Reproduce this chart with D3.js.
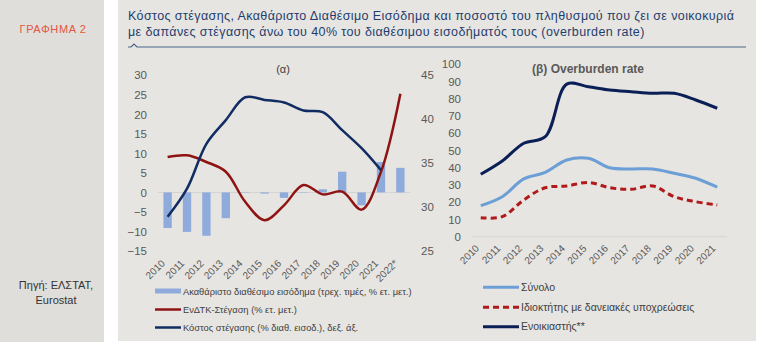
<!DOCTYPE html>
<html>
<head>
<meta charset="utf-8">
<script src="https://cdn.jsdelivr.net/npm/d3@7"></script>
<style>
  html, body { margin: 0; padding: 0; background: #fff; }
  svg { display: block; font-family: "Liberation Sans", Arial, sans-serif; }
</style>
</head>
<body>
<div id="chart"></div>
<script>
// panel (α): yearly changes and housing cost
const yearsA = ["2010", "2011", "2012", "2013", "2014", "2015", "2016", "2017", "2018", "2019", "2020", "2021", "2022*"];
const incomeChange = [-9.1, -10.1, -11.1, -6.6, -0.1, -0.3, -1.4, 0.1, 0.8, 5.3, -3.3, 7.8, 6.3];
const cpiHousing = [9.1, 9.5, 7.8, 5.3, -2.4, -7.1, -3.3, 1.9, -0.5, 0.2, -4.4, 5.3, 25.3];
const housingCost = [28.9, 32.1, 37.2, 39.9, 42.5, 42.2, 41.9, 41.0, 40.8, 38.75, 36.7, 34.2];
const ticksLeftA = [-15, -10, -5, 0, 5, 10, 15, 20, 25, 30];
const ticksRightA = [25, 30, 35, 40, 45];

// panel (β): overburden rate
const yearsB = ["2010", "2011", "2012", "2013", "2014", "2015", "2016", "2017", "2018", "2019", "2020", "2021"];
const totalRate = [18, 23.2, 33.5, 37.3, 44.5, 45.5, 40, 39.3, 39.3, 36.8, 33.9, 28.7];
const ownerMortgage = [11, 11.6, 21.3, 28.4, 29.4, 31.5, 28.4, 27.5, 29.4, 23.2, 20.3, 18.4];
const tenantRate = [36.2, 43.9, 54.2, 58, 88.5, 87, 85.1, 84.1, 83.2, 83.2, 79.3, 74.5];
const ticksB = [0, 10, 20, 30, 40, 50, 60, 70, 80, 90, 100];

const legendA = [
    {label: "Ακαθάριστο διαθέσιμο εισόδημα (τρεχ. τιμές, % ετ. μετ.)", color: "#8eabdc", width: 5, dash: null},
    {label: "ΕνΔΤΚ-Στέγαση (% ετ. μετ.)", color: "#8e1414", width: 2.5, dash: null},
    {label: "Κόστος στέγασης (% διαθ. εισοδ.), δεξ. άξ.", color: "#112c62", width: 2.5, dash: null}
];
const legendB = [
    {label: "Σύνολο", color: "#6b9fd6", width: 3, dash: null},
    {label: "Ιδιοκτήτης με δανειακές υποχρεώσεις", color: "#b01a1a", width: 3, dash: "6,4"},
    {label: "Ενοικιαστής**", color: "#0b1f57", width: 3, dash: null}
];

const width = 758, height = 342;
const axisColor = "#595959";

const svg = d3.select("#chart").append("svg")
    .attr("width", width)
    .attr("height", height);

// background panels
svg.append("rect").attr("x", 0).attr("y", 0).attr("width", 104).attr("height", height).attr("fill", "#e0deda");
svg.append("rect").attr("x", 118).attr("y", 0).attr("width", 638).attr("height", 341).attr("fill", "#e7e5e1");

svg.append("text")
    .attr("x", 53).attr("y", 33)
    .attr("text-anchor", "middle")
    .attr("fill", "#e0573f")
    .style("font-size", "11px")
    .style("letter-spacing", "0.6px")
    .text("ΓΡΑΦΗΜΑ 2");

const source = svg.append("text")
    .attr("text-anchor", "middle")
    .attr("fill", "#333")
    .style("font-size", "11px");
source.append("tspan").attr("x", 56).attr("y", 289).text("Πηγή: ΕΛΣΤΑΤ,");
source.append("tspan").attr("x", 56).attr("y", 304).text("Eurostat");

// title
const title = svg.append("text")
    .attr("fill", "#1f3d6e")
    .style("font-size", "12.5px")
    .style("letter-spacing", "0.4px");
title.append("tspan").attr("x", 128).attr("y", 20)
    .text("Κόστος στέγασης, Ακαθάριστο Διαθέσιμο Εισόδημα και ποσοστό του πληθυσμού που ζει σε νοικοκυριά");
title.append("tspan").attr("x", 128).attr("y", 36)
    .text("με δαπάνες στέγασης άνω του 40% του διαθέσιμου εισοδήματός τους (overburden rate)");

svg.append("path")
    .attr("d", "M128,47H131L134,44L137,47H746")
    .attr("fill", "none")
    .attr("stroke", "#4a6687")
    .attr("stroke-width", 1.2);

// ---------- panel (α) ----------
const xA = d3.scaleBand().domain(yearsA).range([158, 410]).paddingInner(0.57).paddingOuter(0.28);
const yL = d3.scaleLinear().domain([-15, 30]).range([251, 75.3]);
const yR = d3.scaleLinear().domain([25, 45]).range([251, 75.3]);
const cxA = d => xA(d) + xA.bandwidth() / 2;

const gA = svg.append("g");

gA.append("g")
    .attr("transform", "translate(147,0)")
    .call(d3.axisLeft(yL).tickValues(ticksLeftA).tickSize(0).tickPadding(0))
    .call(g => g.select(".domain").remove());

gA.append("g")
    .attr("transform", "translate(421,0)")
    .call(d3.axisRight(yR).tickValues(ticksRightA).tickSize(0).tickPadding(0))
    .call(g => g.select(".domain").remove());

gA.selectAll(".tick text")
    .attr("fill", axisColor)
    .style("font-size", "11.5px")
    .style("font-family", "Liberation Sans, Arial, sans-serif");

gA.append("line")
    .attr("x1", 158).attr("x2", 410)
    .attr("y1", yL(0)).attr("y2", yL(0))
    .attr("stroke", "#d3d3d3").attr("stroke-width", 1);

gA.selectAll("rect.bar")
    .data(incomeChange)
    .join("rect")
    .attr("class", "bar")
    .attr("x", (d, i) => xA(yearsA[i]))
    .attr("width", xA.bandwidth())
    .attr("y", d => Math.min(yL(d), yL(0)))
    .attr("height", d => Math.abs(yL(d) - yL(0)))
    .attr("fill", "#8eabdc");

const lineCpi = d3.line()
    .x((d, i) => cxA(yearsA[i]))
    .y(d => yL(d))
    .curve(d3.curveCatmullRom.alpha(0.5));

gA.append("path")
    .datum(cpiHousing)
    .attr("d", lineCpi)
    .attr("fill", "none")
    .attr("stroke", "#8e1414")
    .attr("stroke-width", 2.5);

const lineCost = d3.line()
    .x((d, i) => cxA(yearsA[i]))
    .y(d => yR(d))
    .curve(d3.curveCatmullRom.alpha(0.5));

gA.append("path")
    .datum(housingCost)
    .attr("d", lineCost)
    .attr("fill", "none")
    .attr("stroke", "#112c62")
    .attr("stroke-width", 2.5);

gA.selectAll("text.xlab")
    .data(yearsA)
    .join("text")
    .attr("class", "xlab")
    .attr("text-anchor", "end")
    .attr("transform", d => `translate(${cxA(d) - 2},${264}) rotate(-45)`)
    .attr("fill", axisColor)
    .style("font-size", "10px")
    .text(d => d);

gA.append("text")
    .attr("x", 283).attr("y", 73)
    .attr("text-anchor", "middle")
    .attr("fill", "#404040")
    .style("font-size", "11px")
    .text("(α)");

// ---------- panel (β) ----------
const xB = d3.scaleBand().domain(yearsB).range([470, 728]);
const yB = d3.scaleLinear().domain([0, 100]).range([236.7, 64.3]);
const cxB = d => xB(d) + xB.bandwidth() / 2;

const gB = svg.append("g");

gB.append("g")
    .attr("transform", "translate(461,0)")
    .call(d3.axisLeft(yB).tickValues(ticksB).tickSize(0).tickPadding(0))
    .call(g => g.select(".domain").remove())
    .call(g => g.selectAll(".tick text")
        .attr("fill", axisColor)
        .style("font-size", "11.5px")
        .style("font-family", "Liberation Sans, Arial, sans-serif"));

gB.append("line")
    .attr("x1", 472).attr("x2", 727)
    .attr("y1", yB(0)).attr("y2", yB(0))
    .attr("stroke", "#d6d6d6").attr("stroke-width", 1);

const lineB = d3.line()
    .x((d, i) => cxB(yearsB[i]))
    .y(d => yB(d))
    .curve(d3.curveCatmullRom.alpha(0.5));

const seriesB = [
    {values: totalRate, style: legendB[0]},
    {values: ownerMortgage, style: legendB[1]},
    {values: tenantRate, style: legendB[2]}
];

gB.selectAll("path.series")
    .data(seriesB)
    .join("path")
    .attr("class", "series")
    .attr("d", d => lineB(d.values))
    .attr("fill", "none")
    .attr("stroke", d => d.style.color)
    .attr("stroke-width", d => d.style.width)
    .attr("stroke-dasharray", d => d.style.dash);

gB.selectAll("text.xlab")
    .data(yearsB)
    .join("text")
    .attr("class", "xlab")
    .attr("text-anchor", "end")
    .attr("transform", d => `translate(${cxB(d) - 1},${249}) rotate(-45)`)
    .attr("fill", axisColor)
    .style("font-size", "10px")
    .text(d => d);

gB.append("text")
    .attr("x", 588).attr("y", 73)
    .attr("text-anchor", "middle")
    .attr("fill", "#595959")
    .style("font-size", "12px")
    .style("font-weight", "bold")
    .text("(β) Overburden rate");

// ---------- legends ----------
function drawLegend(items, x0, x1, rows, fontSize) {
    const lg = svg.append("g");
    items.forEach((it, i) => {
        lg.append("line")
            .attr("x1", x0).attr("x2", x1)
            .attr("y1", rows[i]).attr("y2", rows[i])
            .attr("stroke", it.color)
            .attr("stroke-width", it.width)
            .attr("stroke-dasharray", it.dash);
        lg.append("text")
            .attr("x", x1 + 2).attr("y", rows[i] + 3.5)
            .attr("fill", "#404040")
            .style("font-size", fontSize)
            .text(it.label);
    });
}

drawLegend(legendA, 155, 181, [291, 309.5, 327.5], "9.3px");
drawLegend(legendB, 483, 519, [287.3, 307.3, 326.7], "10.5px");
</script>
</body>
</html>
